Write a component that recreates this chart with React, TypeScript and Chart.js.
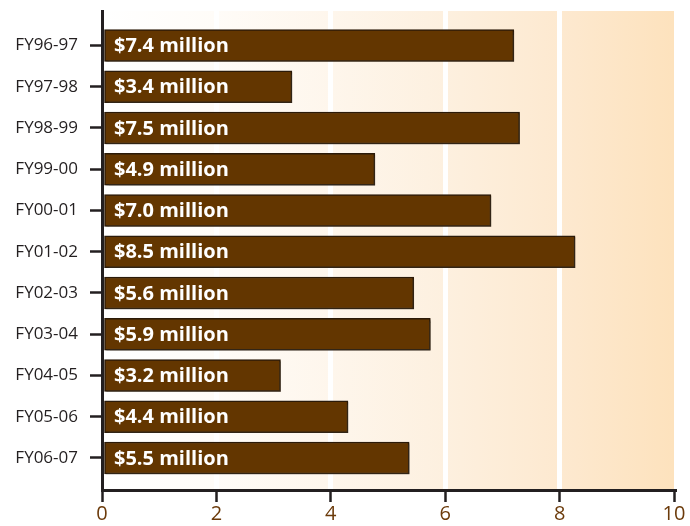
import React, { useEffect, useRef } from "react";
import { Chart, registerables } from "chart.js";

Chart.register(...registerables);

const categories = [
  "FY96-97", "FY97-98", "FY98-99", "FY99-00", "FY00-01", "FY01-02",
  "FY02-03", "FY03-04", "FY04-05", "FY05-06", "FY06-07",
];
const values = [7.2, 3.32, 7.3, 4.77, 6.8, 8.27, 5.45, 5.74, 3.12, 4.3, 5.37];
const barLabels = [
  "$7.4 million", "$3.4 million", "$7.5 million", "$4.9 million", "$7.0 million",
  "$8.5 million", "$5.6 million", "$5.9 million", "$3.2 million", "$4.4 million",
  "$5.5 million",
];
const xTicks = [0, 2, 4, 6, 8, 10];

const AXIS = "#231f20";

export default function App() {
  const ref = useRef<HTMLCanvasElement | null>(null);

  useEffect(() => {
    document.body.style.margin = "0";
    const canvas = ref.current;
    if (!canvas) return;

    const bgPlugin = {
      id: "bg",
      beforeDraw(chart: any) {
        const { ctx, chartArea } = chart;
        const g = ctx.createLinearGradient(chartArea.left, 0, chartArea.right, 0);
        g.addColorStop(0, "#ffffff");
        g.addColorStop(0.2, "#fffcf8");
        g.addColorStop(0.4, "#fef6ec");
        g.addColorStop(0.6, "#fdf0df");
        g.addColorStop(0.8, "#fde9d0");
        g.addColorStop(1, "#fde2bd");
        ctx.save();
        ctx.fillStyle = g;
        ctx.fillRect(chartArea.left, chartArea.top, chartArea.right - chartArea.left, chartArea.bottom - chartArea.top);
        ctx.restore();
      },
      beforeDatasetsDraw(chart: any) {
        const ctx = chart.ctx;
        ctx.save();
        ctx.shadowColor = "rgba(60,50,40,0.45)";
        ctx.shadowOffsetX = 1.5;
        ctx.shadowOffsetY = 1.5;
        ctx.shadowBlur = 1;
      },
      afterDatasetsDraw(chart: any) {
        const ctx = chart.ctx;
        ctx.restore();
        const meta = chart.getDatasetMeta(0);
        ctx.save();
        ctx.fillStyle = "#ffffff";
        ctx.font = "bold 20px 'Open Sans'";
        ctx.textBaseline = "middle";
        ctx.textAlign = "left";
        meta.data.forEach((bar: any, i: number) => {
          ctx.fillText(barLabels[i], chart.chartArea.left + 12, bar.y + 1);
        });
        ctx.restore();
      },
    };

    const chart = new Chart(canvas, {
      type: "bar",
      data: {
        datasets: [
          {
            data: categories.map((_, i) => ({ x: values[i], y: i })),
            backgroundColor: "#633600",
            borderColor: "#2b1a08",
            borderWidth: 1.5,
            borderSkipped: false,
            barThickness: 32,
          } as any,
        ],
      },
      options: {
        indexAxis: "y",
        responsive: false,
        animation: false,
        layout: { padding: { top: 11, right: 16, left: 0, bottom: 0 } },
        plugins: { legend: { display: false }, tooltip: { enabled: false } },
        scales: {
          x: {
            type: "linear",
            position: "bottom",
            min: 0,
            max: 10,
            offset: false,
            afterBuildTicks: (s: any) => {
              s.ticks = xTicks.map((v) => ({ value: v }));
            },
            afterFit: (s: any) => {
              s.height = 36;
            },
            grid: {
              offset: false,
              color: (ctx: any) =>
                ctx.tick && (ctx.tick.value === 0 || ctx.tick.value === 10)
                  ? "rgba(0,0,0,0)"
                  : "#ffffff",
              lineWidth: 5,
              tickColor: AXIS,
              tickLength: 12,
              tickWidth: 2.5,
            },
            border: { color: AXIS, width: 3 },
            ticks: {
              color: "#6b3a0a",
              font: { family: "'Open Sans'", size: 20 },
              padding: 0,
            },
          },
          y: {
            type: "linear",
            min: -0.836,
            max: 10.776,
            reverse: true,
            offset: false,
            afterBuildTicks: (s: any) => {
              s.ticks = categories.map((_, i) => ({ value: i }));
            },
            afterFit: (s: any) => {
              s.width = 102;
              s.paddingTop = 0;
              s.paddingBottom = 0;
            },
            grid: {
              offset: false,
              drawOnChartArea: false,
              tickColor: AXIS,
              tickLength: 12,
              tickWidth: 2.5,
            },
            border: { color: AXIS, width: 3 },
            ticks: {
              autoSkip: false,
              color: AXIS,
              font: { family: "'Open Sans'", size: 17 },
              padding: 12,
              callback: (v: any) => categories[v as number],
            },
          },
        },
      } as any,
      plugins: [bgPlugin],
    });

    return () => chart.destroy();
  }, []);

  return <canvas ref={ref} width={690} height={526} style={{ display: "block" }} />;
}
